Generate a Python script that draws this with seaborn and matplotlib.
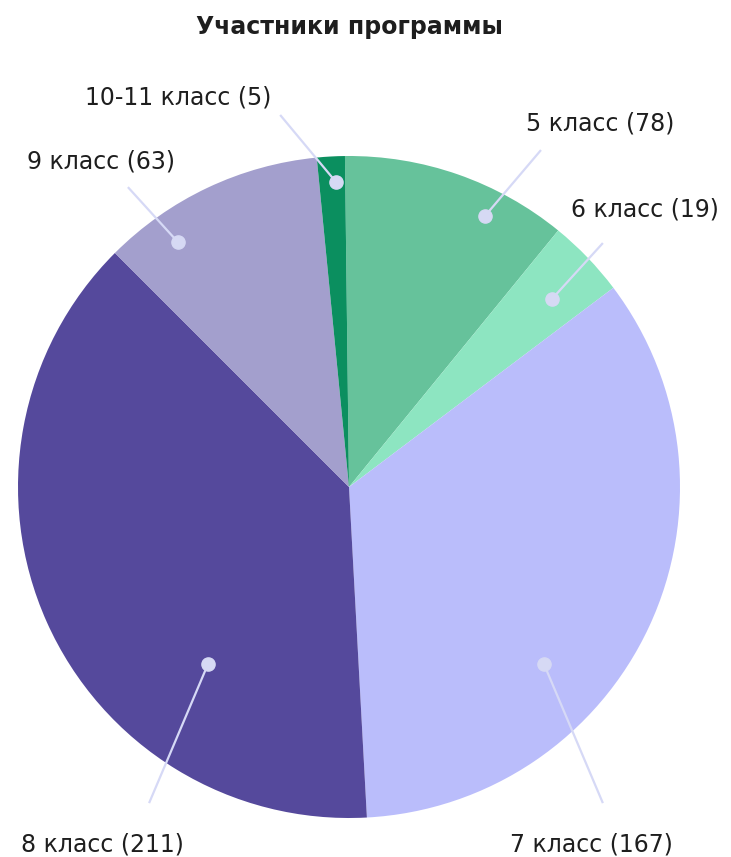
import numpy as np
import matplotlib
matplotlib.use("Agg")
from matplotlib import pyplot as plt
import seaborn as sns

# data
grades = ["5 класс", "6 класс", "7 класс", "8 класс", "9 класс", "10-11 класс"]
counts = [78, 19, 167, 211, 63, 5]
# slice sizes as drawn in the picture (degrees)
slice_deg = [39.9, 13.8, 123.9, 138.1, 39.4, 4.9]
colors = ["#66c29b", "#8de5c1", "#babdfb", "#55499c", "#a39fcd", "#0b8f5f"]

# label layout (data coords of the pie, radius 1)
dot_xy = [(0.411, 0.819), (0.613, 0.568), (0.589, -0.535),
          (-0.426, -0.535), (-0.517, 0.740), (-0.039, 0.921)]
end_xy = [(0.580, 1.018), (0.767, 0.737), (0.767, -0.955),
          (-0.604, -0.955), (-0.668, 0.906), (-0.208, 1.124)]
text_xy = [(0.758, 1.097), (0.894, 0.837), (0.731, -1.079),
           (-0.746, -1.079), (-0.749, 0.982), (-0.517, 1.178)]

sns.set_theme(style="white")
plt.rcParams['font.family'] = ['DejaVu Sans']

fig = plt.figure(figsize=(7.31, 8.57), dpi=100)
ax = fig.add_axes([18/731, 39/857, 662/731, 662/857])
ax.pie(slice_deg, colors=sns.color_palette(colors), startangle=90.7,
       counterclock=False, radius=1, wedgeprops=dict(linewidth=0))
ax.set_xlim(-1, 1)
ax.set_ylim(-1, 1)
ax.set_aspect('equal')
ax.axis('off')

for g, c, d, e, t in zip(grades, counts, dot_xy, end_xy, text_xy):
    ax.plot([d[0], e[0]], [d[1], e[1]], color="#d6d9f6", lw=1.6,
            clip_on=False, solid_capstyle='butt')
    ax.plot(d[0], d[1], 'o', color="#d6d9f4", ms=9.5, clip_on=False)
    ax.text(t[0], t[1], f"{g} ({c})", ha='center', va='center',
            fontsize=17, color="#1e1e1e", clip_on=False)

fig.text(349/731, 1 - 27/857, "Участники программы", ha='center', va='center',
         fontsize=17, fontweight='bold', color="#1e1e1e")

fig.savefig("out.png", dpi=100)
